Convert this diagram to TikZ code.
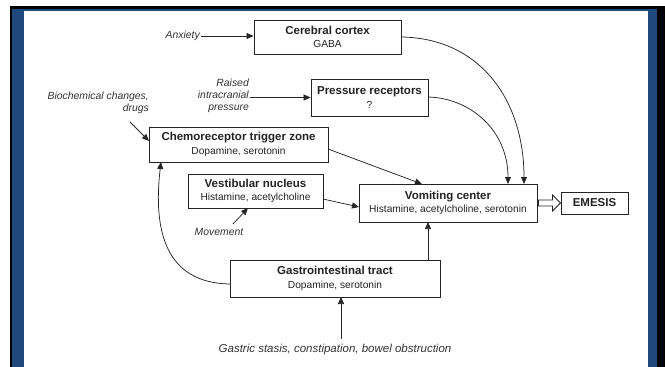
\documentclass[tikz,border=0pt]{standalone}
\usepackage{fontspec}
\setmainfont{Liberation Sans}
\usetikzlibrary{arrows.meta,calc}
\definecolor{frameblue}{RGB}{31,73,125}
\definecolor{inkc}{RGB}{35,35,35}
\begin{document}
\begin{tikzpicture}[x=1pt,y=-1pt,
  box/.style={draw=inkc, line width=0.9pt, fill=white, align=center, inner sep=0pt,
    font=\fontsize{10.2}{13.5}\selectfont, text=inkc},
  lab/.style={font=\itshape\fontsize{10.4}{11.7}\selectfont, text=black!80, inner sep=1pt},
  conn/.style={draw=black!85, line width=0.75pt, -{Triangle[length=7pt,width=6pt]}}]
\useasboundingbox (0,0) rectangle (665,367);
% frame
\fill[white] (0,0) rectangle (665,367);
\fill[black] (10,6) rectangle (665,367);
\fill[frameblue] (12,9) rectangle (657,367);
\fill[white] (24,11) rectangle (648,367);
% boxes
\node[box, minimum width=147pt, minimum height=34pt] (cortex) at (327.5,37)
  {{\bfseries\fontsize{11.5}{13}\selectfont Cerebral cortex}\\GABA};
\node[box, minimum width=117pt, minimum height=37pt] (pressure) at (369.5,97.5)
  {{\bfseries\fontsize{11.5}{13}\selectfont Pressure receptors}\\?};
\node[box, minimum width=179pt, minimum height=35pt] (ctz) at (238.5,144.5)
  {{\bfseries\fontsize{11.5}{13}\selectfont Chemoreceptor trigger zone}\\Dopamine, serotonin};
\node[box, minimum width=135pt, minimum height=34pt] (vest) at (255.5,191)
  {{\bfseries\fontsize{11.5}{13}\selectfont Vestibular nucleus}\\Histamine, acetylcholine};
\node[box, minimum width=178pt, minimum height=38pt] (vomit) at (448,203)
  {{\bfseries\fontsize{11.5}{13}\selectfont Vomiting center}\\Histamine, acetylcholine, serotonin};
\node[box, minimum width=67pt, minimum height=22pt] (emesis) at (594.5,203)
  {{\bfseries\fontsize{11.5}{13}\selectfont EMESIS}};
\node[box, minimum width=210pt, minimum height=37pt] (gi) at (335,278.5)
  {{\bfseries\fontsize{11.5}{13}\selectfont Gastrointestinal tract}\\Dopamine, serotonin};
% labels
\node[lab, anchor=east] (anx) at (201,36) {Anxiety};
\node[lab, anchor=east, align=right] (raised) at (250,96) {Raised\\intracranial\\pressure};
\node[lab, anchor=east, align=right] (bio) at (150,103) {Biochemical changes,\\drugs};
\node[lab] (move) at (219,232) {Movement};
\node[lab, font=\itshape\fontsize{11.5}{13}\selectfont] (gas) at (335,350) {Gastric stasis, constipation, bowel obstruction};
% coordinates
\coordinate (bioS) at (130,122);
\coordinate (ctzIn) at (149,141);
\coordinate (moveS) at (233,224);
\coordinate (vestIn) at (248,208);
\coordinate (gasN) at (341,339);
\coordinate (giIn) at (341,297);
\coordinate (ctzOut) at (328,149);
\coordinate (vomTopA) at (422,184);
\coordinate (vestOut) at (323,199);
\coordinate (vomLeft) at (359,207);
\coordinate (giOut) at (428,260);
\coordinate (vomBot) at (428,222);
\coordinate (cortOut) at (401,37);
\coordinate (vomTopC) at (524,184);
\coordinate (presOut) at (428,97);
\coordinate (vomTopB) at (508,184);
\coordinate (giLeft) at (230,284);
\coordinate (ctzBot) at (161,162);
% connectors
\draw[conn] (anx.east) -- (anx.east -| cortex.west);
\draw[conn] (raised.east |- pressure.west) -- (pressure.west);
\draw[conn] (bioS) -- (ctzIn);
\draw[conn] (moveS) -- (vestIn);
\draw[conn] (gasN) -- (giIn);
\draw[conn] (ctzOut) -- (vomTopA);
\draw[conn] (vestOut) -- (vomLeft);
\draw[conn] (giOut) -- (vomBot);
\draw[conn] (cortOut) .. controls (480,38) and (524,100) .. (vomTopC);
\draw[conn] (presOut) .. controls (470,98) and (508,130) .. (vomTopB);
\draw[conn] (giLeft) .. controls (165,283) and (153,230) .. (ctzBot);
% hollow arrow to EMESIS
\draw[draw=inkc, line width=0.8pt, fill=white]
  ($(vomit.east)+(1,-3)$) -- ($(emesis.west)+(-8,-3)$) -- ($(emesis.west)+(-8,-8)$)
  -- (emesis.west) -- ($(emesis.west)+(-8,8)$) -- ($(emesis.west)+(-8,3)$)
  -- ($(vomit.east)+(1,3)$) -- cycle;
\end{tikzpicture}
\end{document}
